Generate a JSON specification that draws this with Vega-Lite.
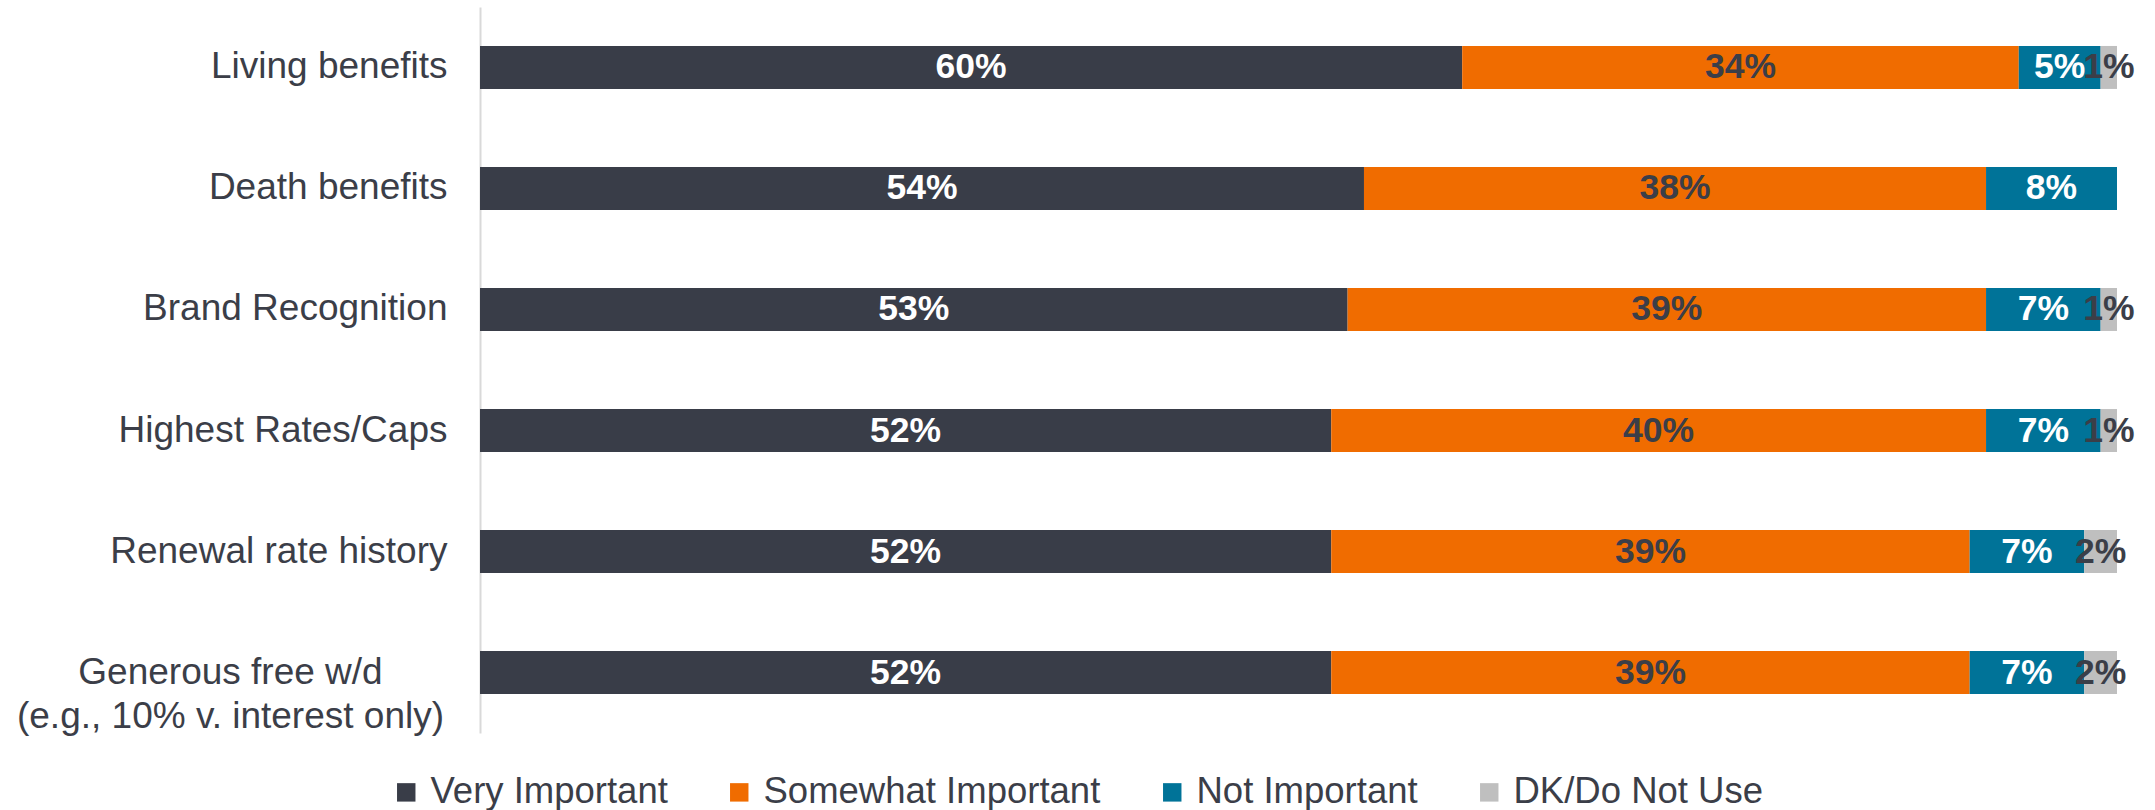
{
  "$schema": "https://vega.github.io/schema/vega-lite/v6.json",
  "width": 1637,
  "height": 726,
  "autosize": {"type": "none"},
  "padding": {"left": 480, "top": 7, "right": 38, "bottom": 77},
  "background": "white",
  "config": {"view": {"stroke": null}, "font": "Liberation Sans"},
  "data": {
    "values": [
      {"item": "Living benefits", "level": "Very Important", "rank": 1, "value": 0.60},
      {"item": "Living benefits", "level": "Somewhat Important", "rank": 2, "value": 0.34},
      {"item": "Living benefits", "level": "Not Important", "rank": 3, "value": 0.05},
      {"item": "Living benefits", "level": "DK/Do Not Use", "rank": 4, "value": 0.01},
      {"item": "Death benefits", "level": "Very Important", "rank": 1, "value": 0.54},
      {"item": "Death benefits", "level": "Somewhat Important", "rank": 2, "value": 0.38},
      {"item": "Death benefits", "level": "Not Important", "rank": 3, "value": 0.08},
      {"item": "Brand Recognition", "level": "Very Important", "rank": 1, "value": 0.53},
      {"item": "Brand Recognition", "level": "Somewhat Important", "rank": 2, "value": 0.39},
      {"item": "Brand Recognition", "level": "Not Important", "rank": 3, "value": 0.07},
      {"item": "Brand Recognition", "level": "DK/Do Not Use", "rank": 4, "value": 0.01},
      {"item": "Highest Rates/Caps", "level": "Very Important", "rank": 1, "value": 0.52},
      {"item": "Highest Rates/Caps", "level": "Somewhat Important", "rank": 2, "value": 0.40},
      {"item": "Highest Rates/Caps", "level": "Not Important", "rank": 3, "value": 0.07},
      {"item": "Highest Rates/Caps", "level": "DK/Do Not Use", "rank": 4, "value": 0.01},
      {"item": "Renewal rate history", "level": "Very Important", "rank": 1, "value": 0.52},
      {"item": "Renewal rate history", "level": "Somewhat Important", "rank": 2, "value": 0.39},
      {"item": "Renewal rate history", "level": "Not Important", "rank": 3, "value": 0.07},
      {"item": "Renewal rate history", "level": "DK/Do Not Use", "rank": 4, "value": 0.02},
      {"item": "Generous free w/d (e.g., 10% v. interest only)", "level": "Very Important", "rank": 1, "value": 0.52},
      {"item": "Generous free w/d (e.g., 10% v. interest only)", "level": "Somewhat Important", "rank": 2, "value": 0.39},
      {"item": "Generous free w/d (e.g., 10% v. interest only)", "level": "Not Important", "rank": 3, "value": 0.07},
      {"item": "Generous free w/d (e.g., 10% v. interest only)", "level": "DK/Do Not Use", "rank": 4, "value": 0.02}
    ]
  },
  "encoding": {
    "y": {
      "field": "item",
      "type": "nominal",
      "sort": ["Living benefits", "Death benefits", "Brand Recognition", "Highest Rates/Caps", "Renewal rate history", "Generous free w/d (e.g., 10% v. interest only)"],
      "scale": {"paddingInner": 0.645, "paddingOuter": 0.322},
      "axis": {
        "title": null,
        "domain": true,
        "domainColor": "#d9d9d9",
        "domainWidth": 2,
        "ticks": false,
        "labelFont": "Liberation Sans",
        "labelFontSize": 37,
        "labelColor": "#3b3e48",
        "labelLimit": 0,
        "labelLineHeight": 44,
        "labelExpr": "indexof(datum.value, 'Generous') >= 0 ? ['Generous free w/d', '(e.g., 10% v. interest only)'] : datum.label",
        "labelAlign": {"condition": {"test": "indexof(datum.value, 'Generous') >= 0", "value": "center"}, "value": "right"},
        "labelPadding": {"condition": {"test": "indexof(datum.value, 'Generous') >= 0", "value": 250}, "value": 33}
      }
    }
  },
  "layer": [
    {
      "mark": {"type": "bar"},
      "encoding": {
        "x": {"field": "value", "type": "quantitative", "stack": "zero", "scale": {"domain": [0, 1], "nice": false}, "axis": null},
        "color": {
          "field": "level",
          "type": "nominal",
          "scale": {
            "domain": ["Very Important", "Somewhat Important", "Not Important", "DK/Do Not Use"],
            "range": ["#393d48", "#f06c00", "#007398", "#bfbfbf"]
          },
          "legend": {
            "title": null,
            "orient": "none",
            "direction": "horizontal",
            "columns": 4,
            "legendX": -92,
            "legendY": 767,
            "symbolType": "square",
            "symbolSize": 340,
            "symbolStrokeWidth": 0,
            "labelOffset": 6,
            "columnPadding": 53,
            "labelFont": "Liberation Sans",
            "labelFontSize": 36.5,
            "labelColor": "#3b3e48",
            "labelLimit": 0
          }
        },
        "order": {"field": "rank", "type": "quantitative"}
      }
    },
    {
      "mark": {"type": "text", "fontSize": 35.5, "fontWeight": "bold", "baseline": "middle", "align": "center", "font": "Liberation Sans"},
      "encoding": {
        "x": {"field": "value", "type": "quantitative", "stack": "zero", "bandPosition": 0.5},
        "detail": {"field": "level"},
        "order": {"field": "rank", "type": "quantitative"},
        "text": {"field": "value", "type": "quantitative", "format": ".0%"},
        "color": {
          "condition": {"test": "datum.level == 'Somewhat Important' || datum.level == 'DK/Do Not Use'", "value": "#3b3e48"},
          "value": "#ffffff"
        }
      }
    }
  ]
}
